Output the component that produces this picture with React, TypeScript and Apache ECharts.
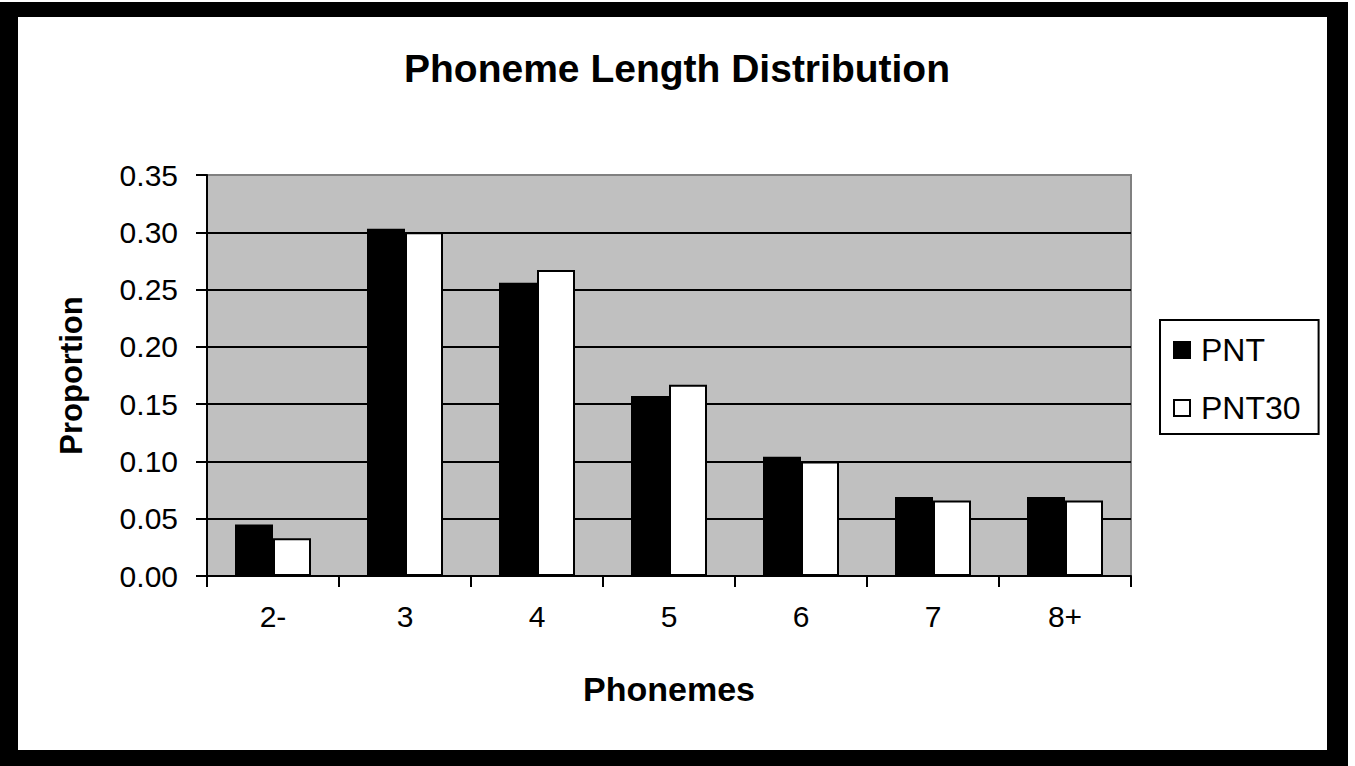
import React, { useEffect, useRef } from "react";
import * as echarts from "echarts";

const categories = ["2-", "3", "4", "5", "6", "7", "8+"];
const pntValues = [0.045, 0.303, 0.256, 0.157, 0.104, 0.069, 0.069];
const pnt30Values = [0.033, 0.3, 0.267, 0.167, 0.1, 0.066, 0.066];
const seriesNames = ["PNT", "PNT30"];

const FONT = "'Liberation Sans', Arial, sans-serif";

export default function App() {
  const ref = useRef<HTMLDivElement>(null);

  useEffect(() => {
    if (!ref.current) return;
    const chart = echarts.init(ref.current, undefined, { renderer: "svg" });
    const W = 1355;
    const H = 766;

    chart.setOption({
      animation: false,
      backgroundColor: "#ffffff",
      title: {
        text: "Phoneme Length Distribution",
        left: 672,
        top: 44,
        textAlign: "center",
        textStyle: { fontFamily: FONT, fontSize: 39, fontWeight: "bold", color: "#000" },
      },
      legend: {
        orient: "vertical",
        left: 1160,
        top: 320,
        padding: [14, 18, 10, 13],
        itemGap: 26,
        itemWidth: 16,
        itemHeight: 16,
        borderColor: "#000",
        borderWidth: 2,
        backgroundColor: "#fff",
        icon: "rect",
        textStyle: {
          fontFamily: FONT,
          fontSize: 32,
          lineHeight: 32,
          color: "#000",
          padding: [0, 0, 0, 6],
        },
        data: seriesNames,
      },
      grid: {
        left: 207,
        top: 175,
        right: W - 1131,
        bottom: H - 576,
        show: true,
        backgroundColor: "#C0C0C0",
        borderColor: "#808080",
        borderWidth: 2,
      },
      xAxis: {
        type: "category",
        data: categories,
        name: "Phonemes",
        nameLocation: "middle",
        nameGap: 96,
        nameTextStyle: { fontFamily: FONT, fontSize: 34, fontWeight: "bold", color: "#000" },
        axisLine: { lineStyle: { color: "#000", width: 2 } },
        axisTick: { show: true, length: 11, lineStyle: { color: "#000", width: 2 } },
        axisLabel: { fontFamily: FONT, fontSize: 30, color: "#000", margin: 25 },
      },
      yAxis: {
        type: "value",
        min: 0,
        max: 0.35,
        interval: 0.05,
        name: "Proportion",
        nameLocation: "middle",
        nameGap: 120,
        nameTextStyle: { fontFamily: FONT, fontSize: 31, fontWeight: "bold", color: "#000" },
        axisLine: { show: true, lineStyle: { color: "#000", width: 2 } },
        axisTick: { show: true, length: 11, lineStyle: { color: "#000", width: 2 } },
        axisLabel: {
          fontFamily: FONT,
          fontSize: 30,
          color: "#000",
          margin: 29,
          formatter: (v: number) => v.toFixed(2),
        },
        splitLine: { show: true, showMaxLine: false, lineStyle: { color: "#000", width: 2 } },
      },
      graphic: [
        // black picture frame around the chart
        { type: "rect", shape: { x: 0, y: 2, width: 1348, height: 15 }, style: { fill: "#000" } },
        { type: "rect", shape: { x: 0, y: 750, width: 1348, height: 16 }, style: { fill: "#000" } },
        { type: "rect", shape: { x: 0, y: 2, width: 18, height: 764 }, style: { fill: "#000" } },
        { type: "rect", shape: { x: 1327, y: 2, width: 21, height: 764 }, style: { fill: "#000" } },
      ],
      series: [
        {
          name: seriesNames[0],
          type: "bar",
          data: pntValues,
          barWidth: 38,
          barGap: "0%",
          itemStyle: { color: "#000", borderColor: "#000", borderWidth: 2 },
        },
        {
          name: seriesNames[1],
          type: "bar",
          data: pnt30Values,
          barWidth: 38,
          barGap: "0%",
          itemStyle: { color: "#fff", borderColor: "#000", borderWidth: 2 },
        },
      ],
    });

    return () => chart.dispose();
  }, []);

  return (
    <div
      ref={ref}
      style={{ position: "fixed", left: 0, top: 0, width: 1355, height: 766, background: "#fff" }}
    />
  );
}
